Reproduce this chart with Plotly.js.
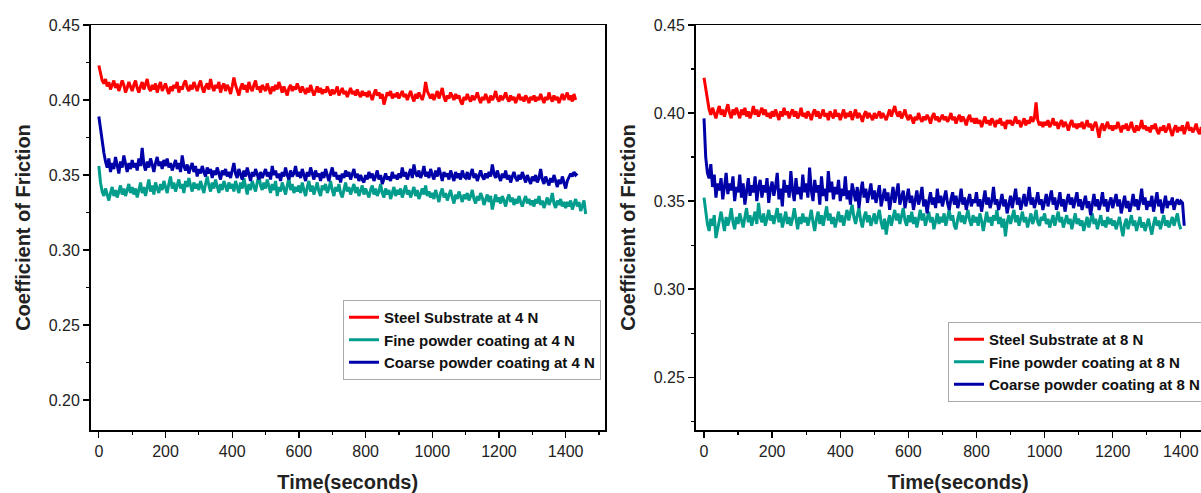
<!DOCTYPE html>
<html>
<head>
<meta charset="utf-8">
<script src="https://cdn.plot.ly/plotly-3.0.1.min.js"></script>
<style>
html,body{margin:0;padding:0;overflow:hidden;background:#fff;width:1201px;height:493px;}
#chart{width:1225px;height:493px;}
</style>
</head>
<body>
<div id="chart"></div>
<script>
// sampling interval of the recorded data (seconds)
const STEP = 5;

// ---- 4 N test ----
const steel4N = [
0.423,0.418,0.413,0.411,0.414,0.409,0.412,0.407,0.410,0.413,0.408,0.411,0.406,0.409,0.413,0.410,0.405,0.408,0.412,0.409,
0.406,0.410,0.413,0.408,0.405,0.409,0.412,0.407,0.410,0.414,0.408,0.406,0.410,0.407,0.411,0.405,0.409,0.412,0.406,0.409,
0.411,0.407,0.404,0.409,0.406,0.410,0.408,0.412,0.405,0.409,0.407,0.411,0.413,0.408,0.406,0.410,0.407,0.412,0.409,0.406,
0.410,0.413,0.408,0.405,0.409,0.411,0.407,0.414,0.409,0.406,0.410,0.408,0.412,0.405,0.409,0.411,0.406,0.410,0.408,0.404,
0.409,0.415,0.410,0.406,0.403,0.408,0.411,0.407,0.410,0.405,0.412,0.408,0.406,0.410,0.413,0.407,0.409,0.405,0.410,0.408,
0.406,0.411,0.408,0.404,0.409,0.406,0.410,0.407,0.412,0.408,0.405,0.409,0.406,0.403,0.408,0.410,0.406,0.409,0.407,0.411,
0.408,0.405,0.409,0.406,0.404,0.408,0.405,0.410,0.407,0.403,0.406,0.409,0.405,0.408,0.404,0.407,0.405,0.409,0.406,0.403,
0.407,0.404,0.406,0.409,0.403,0.405,0.408,0.404,0.406,0.402,0.405,0.408,0.404,0.406,0.403,0.407,0.404,0.402,0.406,0.403,
0.405,0.402,0.406,0.403,0.400,0.404,0.407,0.403,0.405,0.401,0.404,0.397,0.402,0.405,0.403,0.406,0.401,0.404,0.402,0.405,
0.401,0.404,0.406,0.402,0.404,0.400,0.403,0.406,0.402,0.399,0.404,0.401,0.405,0.402,0.400,0.404,0.412,0.406,0.403,0.401,
0.404,0.400,0.403,0.406,0.401,0.404,0.408,0.402,0.399,0.403,0.401,0.405,0.402,0.400,0.404,0.401,0.403,0.399,0.397,0.402,
0.400,0.404,0.401,0.399,0.403,0.400,0.402,0.405,0.401,0.398,0.402,0.400,0.404,0.401,0.398,0.403,0.400,0.402,0.406,0.401,
0.399,0.403,0.400,0.402,0.405,0.401,0.399,0.403,0.400,0.402,0.398,0.401,0.404,0.400,0.402,0.399,0.403,0.401,0.398,0.402,
0.400,0.403,0.399,0.402,0.400,0.404,0.401,0.398,0.402,0.400,0.405,0.401,0.399,0.403,0.400,0.402,0.398,0.401,0.404,0.400,
0.402,0.405,0.400,0.403,0.399,0.404,0.400];

const fine4N = [
0.356,0.345,0.339,0.336,0.341,0.337,0.333,0.338,0.342,0.336,0.340,0.335,0.339,0.343,0.337,0.341,0.336,0.340,0.344,0.338,
0.342,0.337,0.341,0.335,0.340,0.345,0.338,0.342,0.336,0.341,0.347,0.339,0.343,0.337,0.345,0.341,0.338,0.344,0.340,0.346,
0.342,0.338,0.344,0.349,0.341,0.345,0.339,0.343,0.347,0.341,0.344,0.338,0.346,0.342,0.348,0.343,0.339,0.345,0.341,0.344,
0.340,0.346,0.342,0.338,0.344,0.349,0.343,0.339,0.345,0.341,0.347,0.342,0.338,0.344,0.340,0.346,0.343,0.339,0.345,0.341,
0.344,0.339,0.346,0.342,0.338,0.345,0.341,0.348,0.343,0.337,0.344,0.340,0.346,0.342,0.339,0.345,0.350,0.343,0.340,0.345,
0.341,0.347,0.342,0.338,0.344,0.340,0.346,0.336,0.342,0.339,0.345,0.341,0.337,0.343,0.348,0.340,0.344,0.338,0.342,0.339,
0.343,0.338,0.345,0.340,0.336,0.342,0.346,0.339,0.343,0.337,0.341,0.345,0.339,0.336,0.343,0.340,0.344,0.338,0.341,0.346,
0.340,0.336,0.342,0.339,0.344,0.338,0.335,0.341,0.345,0.339,0.342,0.337,0.340,0.344,0.338,0.342,0.336,0.339,0.343,0.337,
0.341,0.338,0.335,0.340,0.343,0.337,0.341,0.336,0.339,0.344,0.338,0.335,0.341,0.337,0.340,0.334,0.339,0.342,0.336,0.340,
0.337,0.341,0.335,0.339,0.343,0.337,0.340,0.335,0.338,0.342,0.336,0.340,0.334,0.338,0.341,0.337,0.343,0.336,0.339,0.335,
0.338,0.334,0.340,0.336,0.332,0.338,0.341,0.335,0.338,0.333,0.337,0.340,0.335,0.331,0.337,0.334,0.339,0.335,0.332,0.337,
0.334,0.338,0.333,0.336,0.340,0.334,0.331,0.336,0.333,0.338,0.335,0.330,0.334,0.337,0.332,0.336,0.327,0.333,0.337,0.332,
0.335,0.331,0.336,0.333,0.329,0.334,0.337,0.332,0.335,0.330,0.334,0.331,0.336,0.332,0.329,0.333,0.336,0.331,0.334,0.330,
0.333,0.329,0.334,0.331,0.336,0.330,0.333,0.328,0.332,0.335,0.330,0.333,0.338,0.331,0.328,0.333,0.330,0.334,0.329,0.332,
0.328,0.332,0.329,0.333,0.327,0.331,0.334,0.329,0.332,0.326,0.330,0.333,0.324];

const coarse4N = [
0.389,0.380,0.372,0.365,0.359,0.355,0.361,0.352,0.358,0.354,0.362,0.356,0.351,0.359,0.355,0.363,0.357,0.352,0.358,0.354,
0.360,0.355,0.358,0.353,0.361,0.356,0.368,0.357,0.353,0.359,0.355,0.361,0.357,0.352,0.358,0.362,0.356,0.359,0.354,0.360,
0.356,0.361,0.355,0.358,0.353,0.357,0.360,0.354,0.358,0.352,0.363,0.356,0.353,0.357,0.351,0.355,0.358,0.352,0.356,0.349,
0.354,0.351,0.356,0.352,0.349,0.355,0.351,0.354,0.348,0.353,0.350,0.355,0.351,0.347,0.353,0.350,0.354,0.349,0.352,0.348,
0.353,0.358,0.351,0.348,0.354,0.350,0.347,0.353,0.349,0.355,0.351,0.346,0.352,0.349,0.354,0.350,0.347,0.352,0.348,0.351,
0.354,0.349,0.352,0.347,0.356,0.350,0.353,0.348,0.351,0.346,0.352,0.349,0.355,0.350,0.347,0.353,0.349,0.351,0.356,0.349,
0.352,0.348,0.354,0.350,0.346,0.352,0.349,0.355,0.350,0.347,0.353,0.349,0.351,0.346,0.352,0.348,0.354,0.349,0.346,0.351,
0.355,0.349,0.352,0.347,0.350,0.345,0.351,0.348,0.353,0.349,0.352,0.347,0.350,0.354,0.348,0.351,0.346,0.350,0.347,0.345,
0.350,0.347,0.352,0.348,0.351,0.346,0.349,0.353,0.347,0.350,0.344,0.348,0.351,0.347,0.349,0.346,0.352,0.348,0.350,0.347,
0.351,0.348,0.355,0.349,0.352,0.347,0.350,0.354,0.348,0.357,0.351,0.349,0.353,0.348,0.351,0.356,0.349,0.352,0.348,0.354,
0.350,0.347,0.353,0.349,0.355,0.350,0.346,0.352,0.349,0.351,0.347,0.353,0.350,0.346,0.352,0.348,0.351,0.347,0.353,0.349,
0.348,0.352,0.347,0.350,0.354,0.348,0.351,0.346,0.350,0.353,0.349,0.347,0.351,0.348,0.352,0.349,0.357,0.351,0.348,0.353,
0.349,0.346,0.351,0.348,0.353,0.347,0.350,0.345,0.349,0.352,0.348,0.346,0.350,0.347,0.352,0.348,0.345,0.350,0.347,0.344,
0.349,0.346,0.350,0.345,0.348,0.354,0.347,0.344,0.349,0.346,0.343,0.348,0.345,0.350,0.346,0.342,0.347,0.344,0.349,0.345,
0.341,0.346,0.349,0.351,0.349,0.352,0.350,0.351];

// ---- 8 N test ----
const steel8N = [
0.420,0.413,0.406,0.402,0.399,0.403,0.400,0.397,0.401,0.404,0.399,0.402,0.398,0.401,0.405,0.400,0.397,0.402,0.399,0.403,
0.400,0.397,0.402,0.399,0.403,0.398,0.401,0.397,0.400,0.404,0.399,0.402,0.398,0.401,0.403,0.399,0.402,0.398,0.400,0.397,
0.401,0.398,0.402,0.399,0.396,0.401,0.398,0.403,0.399,0.401,0.397,0.400,0.402,0.398,0.401,0.397,0.399,0.403,0.398,0.400,
0.397,0.401,0.399,0.396,0.400,0.402,0.398,0.401,0.397,0.399,0.402,0.398,0.400,0.396,0.401,0.399,0.397,0.402,0.398,0.400,
0.396,0.399,0.402,0.397,0.400,0.398,0.401,0.396,0.399,0.402,0.397,0.400,0.398,0.395,0.399,0.401,0.397,0.400,0.398,0.396,
0.400,0.397,0.399,0.401,0.397,0.400,0.398,0.396,0.399,0.402,0.398,0.401,0.404,0.400,0.398,0.401,0.397,0.399,0.402,0.398,
0.396,0.399,0.397,0.394,0.398,0.396,0.400,0.397,0.395,0.398,0.396,0.399,0.397,0.394,0.398,0.400,0.396,0.398,0.395,0.397,
0.399,0.396,0.398,0.395,0.397,0.400,0.396,0.398,0.394,0.397,0.399,0.395,0.398,0.396,0.393,0.397,0.399,0.395,0.397,0.394,
0.397,0.394,0.396,0.392,0.395,0.398,0.394,0.396,0.393,0.397,0.395,0.392,0.396,0.394,0.397,0.393,0.395,0.391,0.396,0.394,
0.396,0.393,0.395,0.398,0.394,0.396,0.392,0.395,0.397,0.393,0.396,0.394,0.398,0.395,0.397,0.406,0.396,0.393,0.395,0.392,
0.395,0.393,0.396,0.392,0.394,0.397,0.393,0.395,0.391,0.394,0.396,0.392,0.395,0.393,0.390,0.394,0.396,0.392,0.394,0.391,
0.394,0.392,0.395,0.391,0.393,0.396,0.392,0.394,0.390,0.393,0.395,0.391,0.386,0.392,0.394,0.390,0.393,0.395,0.391,0.393,
0.390,0.393,0.391,0.395,0.392,0.389,0.393,0.391,0.394,0.390,0.392,0.395,0.391,0.389,0.393,0.390,0.392,0.396,0.391,0.393,
0.390,0.392,0.389,0.393,0.391,0.394,0.390,0.388,0.392,0.390,0.393,0.389,0.391,0.394,0.390,0.387,0.391,0.393,0.389,0.392,
0.390,0.393,0.388,0.391,0.395,0.390,0.392,0.389,0.391,0.394,0.390,0.388,0.392,0.390,0.393,0.389,0.391,0.388,0.392];

const fine8N = [
0.352,0.343,0.337,0.333,0.340,0.336,0.342,0.329,0.335,0.339,0.344,0.337,0.333,0.341,0.336,0.340,0.346,0.338,0.334,0.341,
0.337,0.343,0.339,0.335,0.341,0.346,0.338,0.342,0.336,0.340,0.344,0.337,0.349,0.341,0.338,0.343,0.336,0.340,0.345,0.339,
0.342,0.337,0.341,0.346,0.338,0.343,0.335,0.339,0.344,0.337,0.341,0.336,0.340,0.346,0.339,0.334,0.341,0.337,0.343,0.338,
0.341,0.336,0.340,0.345,0.338,0.333,0.340,0.344,0.337,0.342,0.336,0.341,0.347,0.339,0.343,0.337,0.341,0.335,0.340,0.344,
0.338,0.342,0.336,0.340,0.345,0.339,0.343,0.348,0.341,0.337,0.342,0.346,0.339,0.335,0.341,0.344,0.338,0.342,0.336,0.340,
0.343,0.337,0.341,0.345,0.338,0.334,0.340,0.331,0.338,0.342,0.336,0.340,0.345,0.339,0.343,0.337,0.341,0.346,0.339,0.336,
0.342,0.338,0.344,0.337,0.341,0.335,0.340,0.345,0.339,0.343,0.336,0.340,0.344,0.338,0.341,0.334,0.339,0.343,0.337,0.341,
0.338,0.343,0.336,0.340,0.345,0.339,0.342,0.336,0.334,0.340,0.344,0.338,0.342,0.337,0.341,0.345,0.339,0.336,0.342,0.338,
0.341,0.336,0.343,0.339,0.333,0.340,0.344,0.338,0.341,0.336,0.342,0.339,0.345,0.337,0.341,0.335,0.340,0.330,0.338,0.342,
0.337,0.341,0.345,0.338,0.342,0.336,0.340,0.344,0.338,0.341,0.335,0.339,0.343,0.337,0.340,0.345,0.338,0.336,0.341,0.339,
0.343,0.337,0.340,0.335,0.339,0.342,0.336,0.340,0.344,0.338,0.341,0.335,0.338,0.342,0.337,0.340,0.334,0.339,0.343,0.337,
0.340,0.336,0.339,0.333,0.338,0.341,0.335,0.339,0.343,0.337,0.340,0.334,0.338,0.342,0.336,0.339,0.335,0.341,0.337,0.340,
0.336,0.339,0.334,0.338,0.341,0.335,0.330,0.337,0.340,0.334,0.338,0.342,0.336,0.339,0.333,0.337,0.341,0.335,0.338,0.333,
0.337,0.340,0.335,0.331,0.337,0.341,0.336,0.339,0.334,0.338,0.342,0.336,0.339,0.335,0.338,0.341,0.336,0.339,0.343,0.337,
0.334];

const coarse8N = [
0.397,0.375,0.366,0.363,0.371,0.358,0.365,0.352,0.360,0.356,0.363,0.351,0.358,0.366,0.354,0.360,0.356,0.364,0.350,0.358,
0.355,0.365,0.352,0.360,0.348,0.357,0.363,0.353,0.359,0.355,0.364,0.350,0.358,0.362,0.352,0.359,0.355,0.363,0.349,0.357,
0.361,0.353,0.358,0.366,0.351,0.357,0.347,0.362,0.355,0.359,0.352,0.367,0.356,0.350,0.363,0.354,0.358,0.351,0.365,0.355,
0.360,0.352,0.369,0.356,0.350,0.362,0.355,0.359,0.348,0.364,0.353,0.357,0.350,0.367,0.355,0.361,0.351,0.358,0.354,0.362,
0.350,0.357,0.353,0.364,0.351,0.356,0.348,0.360,0.354,0.350,0.358,0.346,0.355,0.361,0.352,0.357,0.349,0.355,0.360,0.351,
0.356,0.349,0.354,0.359,0.347,0.353,0.357,0.350,0.355,0.345,0.352,0.358,0.349,0.354,0.360,0.348,0.353,0.356,0.346,0.352,
0.357,0.349,0.353,0.345,0.351,0.356,0.348,0.352,0.358,0.347,0.351,0.343,0.350,0.355,0.348,0.352,0.346,0.357,0.349,0.353,
0.347,0.352,0.356,0.349,0.345,0.351,0.355,0.348,0.353,0.346,0.350,0.357,0.348,0.352,0.345,0.350,0.354,0.347,0.351,0.349,
0.355,0.347,0.351,0.344,0.350,0.356,0.348,0.352,0.346,0.350,0.358,0.348,0.351,0.345,0.349,0.354,0.347,0.351,0.343,0.349,
0.353,0.346,0.351,0.357,0.348,0.352,0.345,0.350,0.354,0.347,0.351,0.358,0.348,0.352,0.346,0.350,0.355,0.348,0.351,0.345,
0.350,0.354,0.347,0.351,0.356,0.348,0.352,0.345,0.349,0.355,0.347,0.351,0.344,0.350,0.354,0.348,0.352,0.346,0.350,0.355,
0.347,0.351,0.345,0.349,0.353,0.346,0.350,0.342,0.348,0.354,0.347,0.351,0.345,0.349,0.355,0.347,0.351,0.344,0.349,0.352,
0.346,0.350,0.354,0.347,0.351,0.343,0.349,0.353,0.346,0.350,0.344,0.348,0.354,0.347,0.351,0.345,0.350,0.357,0.348,0.352,
0.345,0.350,0.347,0.353,0.344,0.349,0.355,0.347,0.351,0.343,0.349,0.353,0.346,0.350,0.348,0.352,0.345,0.349,0.351,0.348,
0.350,0.349,0.336];

const names4N = ["Steel Substrate at 4 N","Fine powder coating at 4 N","Coarse powder coating at 4 N"];
const names8N = ["Steel Substrate at 8 N","Fine powder coating at 8 N","Coarse powder coating at 8 N"];
const colors = ["#ff0000","#009c8c","#0000a8"];
const xTitle = "Time(seconds)";
const yTitle = "Coefficient of Friction";

function times(arr){ return arr.map((_, i) => i * STEP); }

const FONT = "Liberation Sans, Arial, sans-serif";
const traces = [];
[steel4N, fine4N, coarse4N].forEach((y, k) => traces.push({
  type:"scatter", mode:"lines", x:times(y), y:y, name:names4N[k],
  line:{color:colors[k], width:3}, xaxis:"x", yaxis:"y",
  legend:"legend", legendgroup:"a"+k
}));
[steel8N, fine8N, coarse8N].forEach((y, k) => traces.push({
  type:"scatter", mode:"lines", x:times(y), y:y, name:names8N[k],
  line:{color:colors[k], width:3}, xaxis:"x2", yaxis:"y2",
  legend:"legend2", legendgroup:"b"+k
}));

const W = 1225;
const TOP = 25, BOT = 430, PH = BOT - TOP;
function xax(domain){
  return {
    domain:domain, range:[-25,1518], showline:true, mirror:true, linecolor:"#000", linewidth:1.5,
    ticks:"outside", ticklen:6, tickwidth:1.3, tickcolor:"#000", tickvals:[0,200,400,600,800,1000,1200,1400],
    minor:{ticks:"outside", ticklen:3.5, tickwidth:1.2, tickcolor:"#000", tickvals:[100,300,500,700,900,1100,1300,1500]},
    showgrid:false, zeroline:false,
    tickfont:{family:FONT, size:16, color:"#222"},
    title:{text:xTitle, font:{family:FONT, size:20, color:"#222", weight:"bold"}, standoff:22}
  };
}
function yax(range, tv, mv, anchor){
  return {
    range:range, showline:true, mirror:true, linecolor:"#000", linewidth:1.5,
    ticks:"outside", ticklen:6, tickwidth:1.3, tickcolor:"#000", tickvals:tv, tickformat:".2f",
    minor:{ticks:"outside", ticklen:3.5, tickwidth:1.2, tickcolor:"#000", tickvals:mv},
    showgrid:false, zeroline:false, anchor:anchor,
    tickfont:{family:FONT, size:16, color:"#222"},
    title:{text:yTitle, font:{family:FONT, size:20, color:"#222", weight:"bold"}, standoff:12}
  };
}
function leg(x, y){
  return {
    x:x, y:y, xanchor:"left", yanchor:"top", bgcolor:"#fff", bordercolor:"#aaa", borderwidth:1,
    font:{family:FONT, size:15, color:"#111", weight:"bold"}, tracegroupgap:0, traceorder:"grouped"
  };
}

const layout = {
  width:W, height:493, margin:{l:0, r:0, t:TOP, b:493-BOT},
  paper_bgcolor:"#fff", plot_bgcolor:"#fff", showlegend:true,
  xaxis:Object.assign(xax([90.5/W, 605/W]), {anchor:"y"}),
  yaxis:yax([0.18,0.45],[0.20,0.25,0.30,0.35,0.40,0.45],[0.175,0.225,0.275,0.325,0.375,0.425],"x"),
  xaxis2:Object.assign(xax([695.5/W, 1221/W]), {anchor:"y2"}),
  yaxis2:yax([0.22,0.45],[0.25,0.30,0.35,0.40,0.45],[0.225,0.275,0.325,0.375,0.425],"x2"),
  legend:leg(343/W, (BOT-300)/PH),
  legend2:leg(948/W, (BOT-322)/PH)
};

Plotly.newPlot("chart", traces, layout, {displayModeBar:false, staticPlot:true});
</script>
</body>
</html>
